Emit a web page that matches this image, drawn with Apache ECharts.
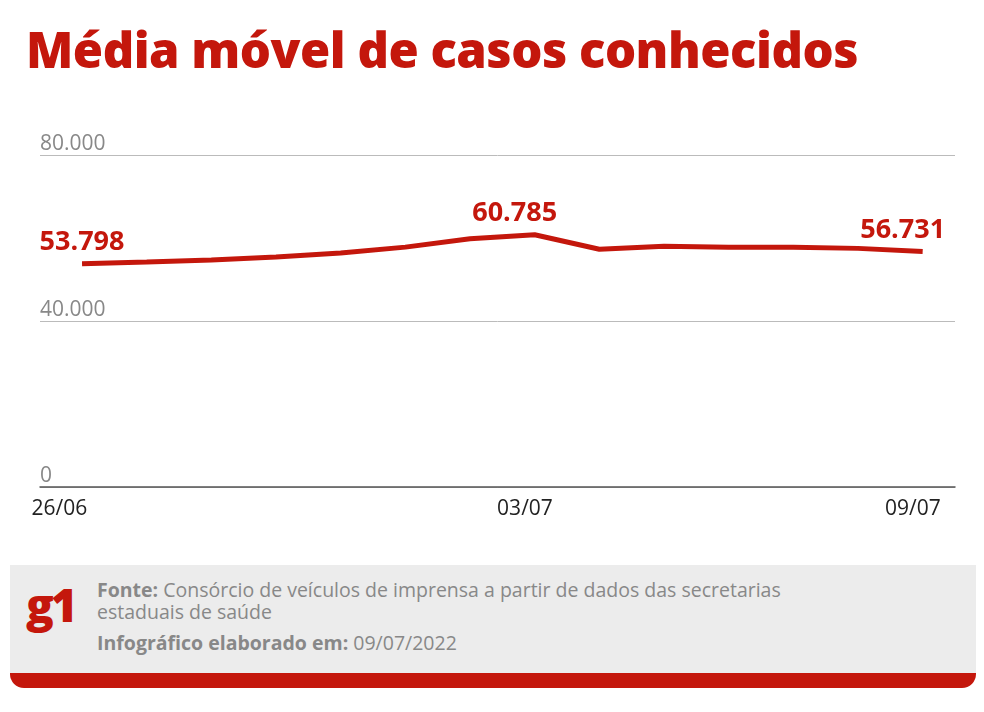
<!DOCTYPE html>
<html><head><meta charset="utf-8">
<script src="https://cdn.jsdelivr.net/npm/echarts@6/dist/echarts.min.js"></script>
<style>
body{margin:0;width:984px;height:712px;background:#fff;font-family:"Open Sans",sans-serif;position:relative;overflow:hidden}
#title{position:absolute;left:26px;top:16px;font-size:49px;font-weight:800;color:#c4170c;letter-spacing:-0.5px;white-space:nowrap}
#c{position:absolute;left:0;top:0;width:984px;height:560px}
#foot{position:absolute;left:10px;top:565px;width:966px;height:108px;background:#ececec;border-bottom:15px solid #c4170c;border-radius:0 0 14px 14px}
#g1{position:absolute;left:16px;top:8px;font-size:46px;font-weight:800;color:#c4170c;letter-spacing:-3px}
#txt{position:absolute;left:87px;top:14px;font-size:19.5px;color:#888;line-height:22px;white-space:nowrap}
#txt b{color:#888}
</style></head><body>
<div id="c"></div>
<div id="title">Média móvel de casos conhecidos</div>
<div id="foot"><div id="g1">g1</div>
<div id="txt"><b>Fonte:</b> Consórcio de veículos de imprensa a partir de dados das secretarias<br>estaduais de saúde<br><span style="display:block;margin-top:9px"><b>Infográfico elaborado em:</b> 09/07/2022</span></div></div>
<script>
const dates=["26/06","27/06","28/06","29/06","30/06","01/07","02/07","03/07","04/07","05/07","06/07","07/07","08/07","09/07"];
const values=[53798,54200,54700,55400,56400,57800,59800,60785,57300,58000,57800,57800,57500,56731];
const labeled=[0,7,13];
const fmt=v=>v===0?"0":v.toLocaleString('de-DE');
const ch=echarts.init(document.getElementById('c'));
ch.setOption({
 animation:false,
 textStyle:{fontFamily:'Open Sans'},
 grid:{left:40,right:29,top:155,bottom:73},
 xAxis:{type:'value',min:-0.65,max:13.5,splitLine:{show:false},
  axisLine:{show:true,onZero:true,lineStyle:{color:'#555',width:1.5}},axisTick:{show:false},
  axisLabel:{customValues:[-0.35,6.85,12.85],formatter:v=>v<1?dates[0]:(v<10?dates[7]:dates[13]),color:'#222',fontSize:21,margin:12}},
 yAxis:{type:'value',min:0,max:80000,interval:40000,axisLine:{show:false},axisTick:{show:false},
  splitLine:{lineStyle:{color:'#bbb'}},
  axisLabel:{inside:true,verticalAlign:'bottom',margin:0,color:'#888',fontSize:21,formatter:fmt}},
 series:[{type:'line',symbol:'none',lineStyle:{color:'#c4170c',width:5},
  data:values.map((v,i)=>({value:[i,v],
   label:{show:labeled.includes(i),position:'top',distance:8,offset:i===13?[-20,0]:(i===7?[-20,0]:[0,0]),
    formatter:()=>fmt(v),color:'#c4170c',fontSize:27,fontWeight:'bold'},
   symbol:labeled.includes(i)?'circle':'none',symbolSize:0}))}]
});
</script></body></html>
